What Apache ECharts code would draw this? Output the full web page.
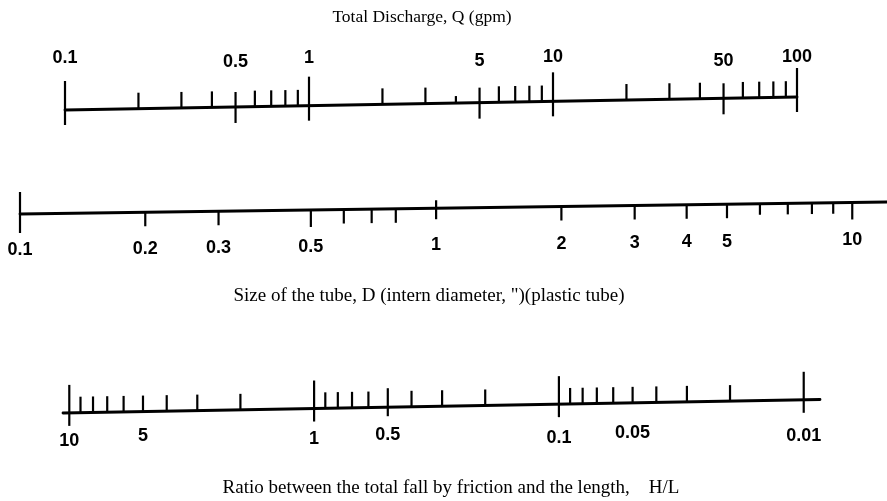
<!DOCTYPE html>
<html>
<head>
<meta charset="utf-8">
<title>Nomograph</title>
<script src="https://cdn.jsdelivr.net/npm/echarts@6/dist/echarts.min.js"></script>
<style>
  html, body { margin: 0; padding: 0; background: #fff; }
  #chart { width: 887px; height: 501px; }
</style>
</head>
<body>
<div id="chart"></div>
<script>
// ---- Total discharge, Q (gpm) ----
const qLabelValues = [0.1, 0.5, 1, 5, 10, 50, 100];
const qLabels = ['0.1', '0.5', '1', '5', '10', '50', '100'];
const qDecadeTicks = [0.1, 1, 10, 100];
const qHalfTicks = [0.5, 5, 50];
const qMinorTicks = [0.2, 0.3, 0.4, 0.6, 0.7, 0.8, 0.9, 2, 3, 6, 7, 8, 9, 20, 30, 40, 60, 70, 80, 90];
const qShortTicks = [4];

// ---- Tube size, D (inches) ----
const dLabelValues = [0.1, 0.2, 0.3, 0.5, 1, 2, 3, 4, 5, 10];
const dLabels = ['0.1', '0.2', '0.3', '0.5', '1', '2', '3', '4', '5', '10'];
const dStartTick = [0.1];
const dUnitTick = [1];
const dLongTicks = [0.5, 10];
const dMinorTicks = [0.2, 0.3, 0.6, 0.7, 0.8, 2, 3, 4, 5];
const dShortTicks = [6, 7, 8, 9];

// ---- Friction ratio, H/L ----
const hLabelValues = [10, 5, 1, 0.5, 0.1, 0.05, 0.01];
const hLabels = ['10', '5', '1', '0.5', '0.1', '0.05', '0.01'];
const hDecadeTicks = [10, 1, 0.1, 0.01];
const hHalfTicks = [0.5];
const hMinorTicks = [9, 8, 7, 6, 5, 4, 3, 2, 0.9, 0.8, 0.7, 0.6, 0.4, 0.3, 0.2,
                     0.09, 0.08, 0.07, 0.06, 0.05, 0.04, 0.03, 0.02];

// Layout of each scale: grid box, axis extent, and the slightly tilted baseline
const scales = [
  { left: 65, width: 732, min: 0.1, max: 100, inverse: false,
    y0: 110, y1: 97, labY0: 58, labY1: 57, halfShift: 4 },
  { left: 20, width: 867, min: 0.1, max: 12.12, inverse: false,
    y0: 214, y1: 202, labY0: 250, labY1: 240, halfShift: 0 },
  { left: 63, width: 757, min: 0.00858, max: 10.61, inverse: true,
    y0: 413, y1: 399.5, labY0: 441, labY1: 436, halfShift: -4 }
];

const INK = '#000';
const LABEL_FONT = 'bold 18px "Liberation Sans", Arial, sans-serif';
const TITLE_FONT = '17.5px "Liberation Serif", "Times New Roman", serif';
const CAPTION_FONT = '19px "Liberation Serif", "Times New Roman", serif';

function interp(a, b, s, x) {
  return a + (b - a) * (x - s.left) / s.width;
}

function baseline(idx) {
  const s = scales[idx];
  return {
    type: 'custom', xAxisIndex: idx, yAxisIndex: idx, silent: true, clip: false,
    data: [[s.min, 0]],
    renderItem(params, api) {
      const a = api.coord([s.min, 0])[0];
      const b = api.coord([s.max, 0])[0];
      return {
        type: 'line',
        shape: { x1: a, y1: interp(s.y0, s.y1, s, a), x2: b, y2: interp(s.y0, s.y1, s, b) },
        style: { stroke: INK, lineWidth: 2.8, lineCap: 'round' }
      };
    }
  };
}

function ticks(idx, values, up, down) {
  const s = scales[idx];
  return {
    type: 'custom', xAxisIndex: idx, yAxisIndex: idx, silent: true, clip: false,
    data: values.map(v => [v, 0]),
    renderItem(params, api) {
      const x = api.coord([api.value(0), 0])[0];
      const y = interp(s.y0, s.y1, s, x);
      return {
        type: 'line',
        shape: { x1: x, y1: y - up, x2: x, y2: y + down },
        style: { stroke: INK, lineWidth: 2.2 }
      };
    }
  };
}

function labels(idx, values, texts, halfSet) {
  const s = scales[idx];
  return {
    type: 'custom', xAxisIndex: idx, yAxisIndex: idx, silent: true, clip: false,
    data: values.map((v, i) => [v, i]),
    renderItem(params, api) {
      const v = api.value(0);
      const i = api.value(1);
      const x = api.coord([v, 0])[0];
      let y = interp(s.labY0, s.labY1, s, x);
      if (halfSet.indexOf(v) >= 0) y += s.halfShift;
      return {
        type: 'text',
        style: {
          text: texts[i], x: x, y: y, fill: INK, font: LABEL_FONT,
          align: 'center', verticalAlign: 'middle'
        }
      };
    }
  };
}

const chart = echarts.init(document.getElementById('chart'), null, { renderer: 'canvas' });

const hiddenAxis = {
  axisLine: { show: false }, axisTick: { show: false },
  axisLabel: { show: false }, splitLine: { show: false }
};

chart.setOption({
  animation: false,
  backgroundColor: '#fff',
  grid: scales.map(s => ({ left: s.left, width: s.width, top: 0, height: 501 })),
  xAxis: scales.map((s, i) => Object.assign({
    type: 'log', gridIndex: i, min: s.min, max: s.max, inverse: s.inverse, logBase: 10
  }, hiddenAxis)),
  yAxis: scales.map((s, i) => Object.assign({
    type: 'value', gridIndex: i, min: 0, max: 1
  }, hiddenAxis)),
  graphic: [
    { type: 'text', x: 422, y: 17, silent: true,
      style: { text: 'Total Discharge, Q (gpm)', font: TITLE_FONT, fill: INK,
               align: 'center', verticalAlign: 'middle' } },
    { type: 'text', x: 429, y: 296, silent: true,
      style: { text: 'Size of the tube, D (intern diameter, ")(plastic tube)', font: CAPTION_FONT, fill: INK,
               align: 'center', verticalAlign: 'middle' } },
    { type: 'text', x: 451, y: 488, silent: true,
      style: { text: 'Ratio between the total fall by friction and the length,    H/L', font: CAPTION_FONT, fill: INK,
               align: 'center', verticalAlign: 'middle' } }
  ],
  series: [
    // Q scale
    baseline(0),
    ticks(0, qDecadeTicks, 29, 15),
    ticks(0, qHalfTicks, 15, 16),
    ticks(0, qMinorTicks, 16, 0),
    ticks(0, qShortTicks, 7, 0),
    labels(0, qLabelValues, qLabels, qHalfTicks),
    // D scale
    baseline(1),
    ticks(1, dStartTick, 22, 19),
    ticks(1, dUnitTick, 8, 11),
    ticks(1, dLongTicks, 0, 17),
    ticks(1, dMinorTicks, 0, 14),
    ticks(1, dShortTicks, 0, 11),
    labels(1, dLabelValues, dLabels, []),
    // H/L scale
    baseline(2),
    ticks(2, hDecadeTicks, 28, 13),
    ticks(2, hHalfTicks, 19, 9),
    ticks(2, hMinorTicks, 16, 0),
    labels(2, hLabelValues, hLabels, [5, 0.5, 0.05])
  ]
});
</script>
</body>
</html>
